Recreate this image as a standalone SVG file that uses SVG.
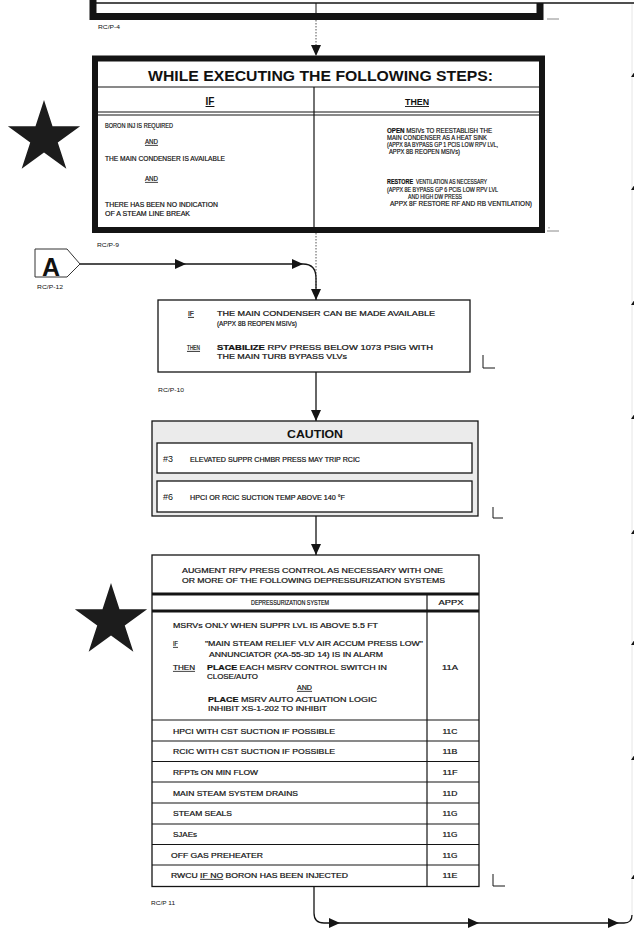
<svg xmlns="http://www.w3.org/2000/svg" width="634" height="929" viewBox="0 0 634 929">
<defs>
<style>
.f{font-family:"Liberation Sans",Arial,Helvetica,sans-serif;fill:#111}
.s{font-size:6.3px;stroke:#111;stroke-width:0.18}
.m{font-size:7px;stroke:#111;stroke-width:0.2}
.l{font-size:5.5px}
.b{font-weight:bold}
.u{text-decoration:underline}
.c{text-anchor:middle}
.ln{fill:none;stroke:#141414;stroke-width:1.2}
.bx{fill:#fff;stroke:#141414;stroke-width:1.3}
.dot{fill:none;stroke:#555;stroke-width:1;stroke-dasharray:1.5 1.5}
.cn{fill:none;stroke:#141414;stroke-width:1.3}
.mk{fill:none;stroke:#141414;stroke-width:1}
.faint{fill:none;stroke:#e6e6e6;stroke-width:1}
</style>
<marker id="ah" viewBox="0 0 11 10" refX="11" refY="5" markerWidth="11" markerHeight="10" markerUnits="userSpaceOnUse" orient="auto"><path d="M0,0 L11,5 L0,10 z" fill="#141414"/></marker>
<path id="star" d="M0,-38 L8.51,-11.72 L36.14,-11.74 L13.77,4.48 L22.34,30.74 L0,14.48 L-22.34,30.74 L-13.77,4.48 L-36.14,-11.74 L-8.51,-11.72 Z"/>
</defs>
<rect width="634" height="929" fill="#fff"/>

<!-- bottom of the preceding step box -->
<g id="prev-step">
<path d="M93,0 V16.5 H540 V3" fill="none" stroke="#141414" stroke-width="7"/>
<line x1="316" y1="3" x2="316" y2="13" stroke="#141414" stroke-width="1"/>
<text class="f l" x="98" y="29" textLength="22" lengthAdjust="spacingAndGlyphs">RC/P-4</text>
</g>

<!-- concurrent IF / THEN block -->
<g id="while-executing">
<rect x="95" y="58.5" width="447" height="171.5" fill="#fff" stroke="#141414" stroke-width="6"/>
<text class="f b" x="148" y="81" font-size="14" textLength="345" lengthAdjust="spacingAndGlyphs">WHILE EXECUTING THE FOLLOWING STEPS:</text>
<line class="ln" x1="98" y1="87" x2="539" y2="87"/>
<text class="f b u c" x="210" y="105" font-size="10">IF</text>
<text class="f b u c" x="417" y="105" font-size="9" textLength="24" lengthAdjust="spacingAndGlyphs">THEN</text>
<line class="ln" x1="98" y1="112" x2="539" y2="112"/>
<line class="ln" x1="98" y1="115" x2="539" y2="115"/>
<line class="ln" x1="314" y1="87" x2="314" y2="227"/>
<text class="f s" x="105" y="128" textLength="68" lengthAdjust="spacingAndGlyphs">BORON INJ IS REQUIRED</text>
<text class="f s u" x="145" y="144" textLength="13" lengthAdjust="spacingAndGlyphs">AND</text>
<text class="f s" x="105" y="161" textLength="120" lengthAdjust="spacingAndGlyphs">THE MAIN CONDENSER IS AVAILABLE</text>
<text class="f s u" x="145" y="181" textLength="13" lengthAdjust="spacingAndGlyphs">AND</text>
<text class="f s" x="105" y="207" textLength="113" lengthAdjust="spacingAndGlyphs">THERE HAS BEEN NO INDICATION</text>
<text class="f s" x="105" y="216" textLength="85" lengthAdjust="spacingAndGlyphs">OF A STEAM LINE BREAK</text>
<text class="f s" x="387" y="132.5" textLength="105" lengthAdjust="spacingAndGlyphs"><tspan class="b">OPEN</tspan> MSIVs TO REESTABLISH THE</text>
<text class="f s" x="387" y="140" textLength="100" lengthAdjust="spacingAndGlyphs">MAIN CONDENSER AS A HEAT SINK</text>
<text class="f s" x="387" y="147" textLength="111" lengthAdjust="spacingAndGlyphs">(APPX 8A BYPASS GP 1 PCIS LOW RPV LVL,</text>
<text class="f s" x="389" y="154" textLength="71" lengthAdjust="spacingAndGlyphs">APPX 8B REOPEN MSIVs)</text>
<text class="f s b" x="387" y="184" textLength="26" lengthAdjust="spacingAndGlyphs">RESTORE</text>
<text class="f s" x="416" y="184" textLength="71" lengthAdjust="spacingAndGlyphs">VENTILATION AS NECESSARY</text>
<text class="f s" x="387" y="192" textLength="111" lengthAdjust="spacingAndGlyphs">(APPX 8E BYPASS GP 6 PCIS LOW RPV LVL</text>
<text class="f s" x="408" y="199" textLength="54" lengthAdjust="spacingAndGlyphs">AND HIGH DW PRESS</text>
<text class="f s" x="390" y="206" textLength="142" lengthAdjust="spacingAndGlyphs">APPX 8F RESTORE RF AND RB VENTILATION)</text>
<text class="f l" x="97" y="247" textLength="22" lengthAdjust="spacingAndGlyphs">RC/P-9</text>
</g>

<!-- entry connector A -->
<g id="entry-a">
<path d="M35,249 H67 L80,264 L67,277 H35 Z" fill="#fff" stroke="#333" stroke-width="1"/>
<text class="f b c" x="51" y="276" font-size="25">A</text>
<text class="f l" x="37" y="289" textLength="26" lengthAdjust="spacingAndGlyphs">RC/P-12</text>
</g>

<!-- condenser step -->
<g id="stabilize-step">
<rect class="bx" x="158" y="300" width="312" height="72"/>
<text class="f m u" x="188" y="316" textLength="6" lengthAdjust="spacingAndGlyphs">IF</text>
<text class="f m" x="217" y="316" textLength="218" lengthAdjust="spacingAndGlyphs">THE MAIN CONDENSER CAN BE MADE AVAILABLE</text>
<text class="f m" x="217" y="326" textLength="80" lengthAdjust="spacingAndGlyphs">(APPX 8B REOPEN MSIVs)</text>
<text class="f m u" x="187" y="350" textLength="13" lengthAdjust="spacingAndGlyphs">THEN</text>
<text class="f m" x="217" y="350" textLength="216" lengthAdjust="spacingAndGlyphs"><tspan class="b">STABILIZE</tspan> RPV PRESS BELOW 1073 PSIG WITH</text>
<text class="f m" x="217" y="359" textLength="130" lengthAdjust="spacingAndGlyphs">THE MAIN TURB BYPASS VLVs</text>
<path class="mk" d="M483,355 V368 H495"/>
<text class="f l" x="158" y="392" textLength="26" lengthAdjust="spacingAndGlyphs">RC/P-10</text>
</g>

<!-- caution block -->
<g id="caution">
<rect x="152" y="421" width="326" height="95" fill="#ebebeb" stroke="#141414" stroke-width="1.3"/>
<text class="f b" x="287" y="438" font-size="11.5" textLength="56" lengthAdjust="spacingAndGlyphs">CAUTION</text>
<rect class="bx" x="157" y="443" width="315" height="30"/>
<text class="f" x="163" y="462" font-size="9.5" textLength="10" lengthAdjust="spacingAndGlyphs">#3</text>
<text class="f s" x="190" y="462" font-size="6.5" textLength="170" lengthAdjust="spacingAndGlyphs">ELEVATED SUPPR CHMBR PRESS MAY TRIP RCIC</text>
<rect class="bx" x="157" y="481" width="315" height="31"/>
<text class="f" x="163" y="500" font-size="9.5" textLength="10" lengthAdjust="spacingAndGlyphs">#6</text>
<text class="f s" x="190" y="500" textLength="155" lengthAdjust="spacingAndGlyphs">HPCI OR RCIC SUCTION TEMP ABOVE 140 °F</text>
<path class="mk" d="M493,507 V518 H503"/>
</g>

<!-- depressurization systems table -->
<g id="depressurization-table">
<rect class="bx" x="152" y="555" width="327" height="331.5"/>
<text class="f s" x="182" y="573" textLength="261" lengthAdjust="spacingAndGlyphs">AUGMENT RPV PRESS CONTROL AS NECESSARY WITH ONE</text>
<text class="f s" x="182" y="583" textLength="263" lengthAdjust="spacingAndGlyphs">OR MORE OF THE FOLLOWING DEPRESSURIZATION SYSTEMS</text>
<line x1="152" y1="594" x2="479" y2="594" stroke="#141414" stroke-width="3"/>
<text class="f s c" x="290" y="605" textLength="78" lengthAdjust="spacingAndGlyphs">DEPRESSURIZATION SYSTEM</text>
<text class="f s c" x="451" y="605" textLength="25" lengthAdjust="spacingAndGlyphs">APPX</text>
<line x1="152" y1="611" x2="479" y2="611" stroke="#141414" stroke-width="3"/>
<line class="ln" x1="427" y1="594" x2="427" y2="886.5"/>
<text class="f s" x="173" y="628" textLength="205" lengthAdjust="spacingAndGlyphs">MSRVs ONLY WHEN SUPPR LVL IS ABOVE 5.5 FT</text>
<text class="f s u" x="173" y="646" textLength="5" lengthAdjust="spacingAndGlyphs">IF</text>
<text class="f s" x="205" y="646" textLength="218" lengthAdjust="spacingAndGlyphs">"MAIN STEAM RELIEF VLV AIR ACCUM PRESS LOW"</text>
<text class="f s" x="209" y="657" textLength="174" lengthAdjust="spacingAndGlyphs">ANNUNCIATOR (XA-55-3D 14) IS IN ALARM</text>
<text class="f s u" x="173" y="670" textLength="22" lengthAdjust="spacingAndGlyphs">THEN</text>
<text class="f s" x="207" y="670" textLength="180" lengthAdjust="spacingAndGlyphs"><tspan class="b">PLACE</tspan> EACH MSRV CONTROL SWITCH IN</text>
<text class="f s" x="207" y="679" textLength="51" lengthAdjust="spacingAndGlyphs">CLOSE/AUTO</text>
<text class="f s u" x="297" y="690" textLength="15" lengthAdjust="spacingAndGlyphs">AND</text>
<text class="f s" x="208" y="702" textLength="169" lengthAdjust="spacingAndGlyphs"><tspan class="b">PLACE</tspan> MSRV AUTO ACTUATION LOGIC</text>
<text class="f s" x="208" y="711" textLength="119" lengthAdjust="spacingAndGlyphs">INHIBIT XS-1-202 TO INHIBIT</text>
<text class="f s c" x="450" y="670" textLength="16" lengthAdjust="spacingAndGlyphs">11A</text>
<g class="ln">
<line x1="152" y1="720" x2="479" y2="720"/>
<line x1="152" y1="741" x2="479" y2="741"/>
<line x1="152" y1="761.5" x2="479" y2="761.5"/>
<line x1="152" y1="782" x2="479" y2="782"/>
<line x1="152" y1="803" x2="479" y2="803"/>
<line x1="152" y1="824" x2="479" y2="824"/>
<line x1="152" y1="844.5" x2="479" y2="844.5"/>
<line x1="152" y1="865" x2="479" y2="865"/>
</g>
<text class="f s" x="173" y="733.5" textLength="162" lengthAdjust="spacingAndGlyphs">HPCI WITH CST SUCTION IF POSSIBLE</text>
<text class="f s c" x="450" y="733.5" textLength="15" lengthAdjust="spacingAndGlyphs">11C</text>
<text class="f s" x="173" y="754" textLength="162" lengthAdjust="spacingAndGlyphs">RCIC WITH CST SUCTION IF POSSIBLE</text>
<text class="f s c" x="450" y="754" textLength="15" lengthAdjust="spacingAndGlyphs">11B</text>
<text class="f s" x="173" y="775" textLength="85" lengthAdjust="spacingAndGlyphs">RFPTs ON MIN FLOW</text>
<text class="f s c" x="450" y="775" textLength="15" lengthAdjust="spacingAndGlyphs">11F</text>
<text class="f s" x="173" y="795.5" textLength="125" lengthAdjust="spacingAndGlyphs">MAIN STEAM SYSTEM DRAINS</text>
<text class="f s c" x="450" y="795.5" textLength="15" lengthAdjust="spacingAndGlyphs">11D</text>
<text class="f s" x="173" y="816" textLength="59" lengthAdjust="spacingAndGlyphs">STEAM SEALS</text>
<text class="f s c" x="450" y="816" textLength="15" lengthAdjust="spacingAndGlyphs">11G</text>
<text class="f s" x="173" y="837" textLength="24" lengthAdjust="spacingAndGlyphs">SJAEs</text>
<text class="f s c" x="450" y="837" textLength="15" lengthAdjust="spacingAndGlyphs">11G</text>
<text class="f s" x="171" y="857.5" textLength="92" lengthAdjust="spacingAndGlyphs">OFF GAS PREHEATER</text>
<text class="f s c" x="450" y="857.5" textLength="15" lengthAdjust="spacingAndGlyphs">11G</text>
<text class="f s" x="171" y="878" textLength="177" lengthAdjust="spacingAndGlyphs">RWCU <tspan class="u">IF NO</tspan> BORON HAS BEEN INJECTED</text>
<text class="f s c" x="450" y="878" textLength="15" lengthAdjust="spacingAndGlyphs">11E</text>
<path class="mk" d="M493,874 V886 H505"/>
<text class="f l" x="151" y="905" textLength="24" lengthAdjust="spacingAndGlyphs">RC/P 11</text>
</g>

<!-- priority markers -->
<g id="priority-stars" fill="#1c1c1c">
<use href="#star" x="44" y="138"/>
<use href="#star" x="111" y="621"/>
</g>

<!-- margin marks -->
<g id="margin-marks" stroke="#8a8a8a" stroke-width="1" fill="none">
<path d="M547,19 h12"/>
<path d="M547,231 h12"/>
<path d="M549,227 v1.5"/>
</g>

<g id="connectors">
<path class="dot" d="M316,20 V56" marker-end="url(#ah)"/>
<path class="dot" d="M316,233 V288"/>
<path class="cn" d="M80,264 H186" marker-end="url(#ah)"/>
<path class="cn" d="M186,264 H303" marker-end="url(#ah)"/>
<path class="cn" d="M303,264 Q316,264 316,278 V300" marker-end="url(#ah)"/>
<path class="cn" d="M316,372 V421" marker-end="url(#ah)"/>
<path class="cn" d="M316,516 V555" marker-end="url(#ah)"/>
<path class="cn" d="M314,886.5 V913 Q314,923 324,923 H340" marker-end="url(#ah)"/>
<path class="cn" d="M340,923 H479" marker-end="url(#ah)"/>
<path class="cn" d="M479,923 H619" marker-end="url(#ah)"/>
<path class="cn" d="M619,923 H624 Q632,923 632,915"/>
<path class="faint" d="M632,915 V3"/>
<path class="cn" d="M96,3 H634"/>
<g fill="#141414">
<polygon points="635,71 639,77 631,77"/>
<polygon points="635,184 639,190 631,190"/>
<polygon points="635,299 639,305 631,305"/>
<polygon points="635,413 639,419 631,419"/>
<polygon points="635,528 639,534 631,534"/>
<polygon points="635,639 639,645 631,645"/>
<polygon points="635,754 639,760 631,760"/>
<polygon points="635,873 639,879 631,879"/>
</g>
</g>
</svg>
